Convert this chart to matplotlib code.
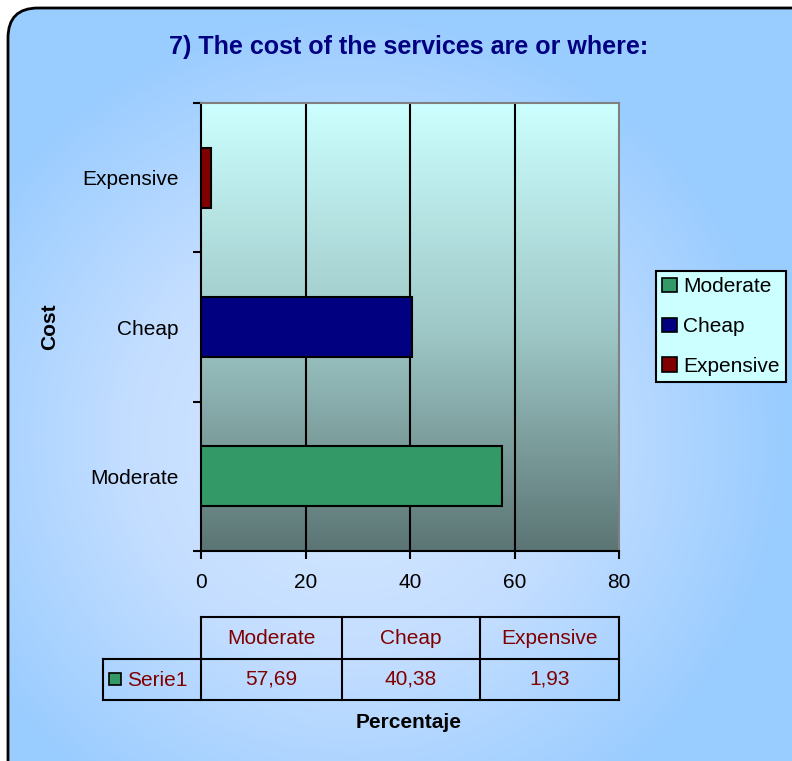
import numpy as np
import matplotlib.pyplot as plt
from matplotlib.patches import Patch, FancyBboxPatch
from matplotlib.colors import LinearSegmentedColormap

plt.rcParams['font.family'] = ['Liberation Sans', 'DejaVu Sans']

# data
categories = ['Moderate', 'Cheap', 'Expensive']
values = [57.69, 40.38, 1.93]
bar_colors = ['#339966', '#000080', '#800000']
series_name = 'Serie1'
title = '7) The cost of the services are or where:'
xticks = [0, 20, 40, 60, 80]

W, H = 792, 761
fig = plt.figure(figsize=(W / 100, H / 100), dpi=100)
fig.patch.set_facecolor('white')

def fx(px):
    return px / W

def fy(py):
    return 1 - py / H

# background with radial gradient inside a rounded frame
bg = fig.add_axes([0, 0, 1, 1])
bg.set_xlim(0, W)
bg.set_ylim(H, 0)
bg.axis('off')
yy, xx = np.mgrid[0:H, 0:W]
r = np.sqrt(((xx - 350) / 440.0) ** 2 + ((yy - 440) / 430.0) ** 2)
r = np.clip(r, 0, 1)
bg_cmap = LinearSegmentedColormap.from_list('bg', ['#d8eaff', '#c4deff', '#99ccff'])
im = bg.imshow(r, cmap=bg_cmap, extent=(0, W, H, 0), aspect='auto', zorder=0)
frame = FancyBboxPatch((8, 8), W + 30, H + 30, boxstyle='round,pad=0,rounding_size=30',
                       facecolor='none', edgecolor='black', linewidth=2, zorder=2)
bg.add_patch(frame)
im.set_clip_path(frame)

# main plot
ax = fig.add_axes([fx(201), fy(551), fx(619) - fx(201), fy(103) - fy(551)])
ax.set_facecolor('none')
grad = np.linspace(1, 0, 256).reshape(-1, 1)
plot_cmap = LinearSegmentedColormap.from_list('pa', ['#5b7574', '#9fc9c8', '#ccffff'])
ax.imshow(grad, cmap=plot_cmap, extent=(0, 80, -0.5, 2.5), aspect='auto', zorder=0)

ypos = np.arange(len(categories))
ax.barh(ypos, values, height=0.4, color=bar_colors, edgecolor='black', linewidth=1.5, zorder=3)

ax.set_xlim(0, 80)
ax.set_ylim(-0.5, 2.5)
ax.set_xticks(xticks)
ax.set_xticklabels([str(v) for v in xticks], fontsize=15)
for v in xticks[1:-1]:
    ax.axvline(v, color='black', linewidth=1.5, zorder=1)

ax.set_yticks([-0.5, 0.5, 1.5, 2.5])
ax.set_yticklabels([])
ax.set_yticks(ypos, minor=True)
ax.set_yticklabels(categories, minor=True, fontsize=15)
ax.tick_params(axis='y', which='minor', length=0, pad=16)
ax.tick_params(axis='both', which='major', direction='out', length=6, width=1.5, color='black')
ax.tick_params(axis='x', pad=10)

for side in ['top', 'right']:
    ax.spines[side].set_color('#808080')
    ax.spines[side].set_linewidth(1.5)
for side in ['left', 'bottom']:
    ax.spines[side].set_color('black')
    ax.spines[side].set_linewidth(1.5)

fig.text(0.5 * (fx(155) + fx(662)), fy(47), title, ha='center', va='center',
         fontsize=18, fontweight='bold', color='#000080')
fig.text(fx(50), fy(327), 'Cost', rotation=90, ha='center', va='center',
         fontsize=15, fontweight='bold', color='black')
fig.text(fx(409), fy(722), 'Percentaje', ha='center', va='center',
         fontsize=15, fontweight='bold', color='black')

# legend
handles = [Patch(facecolor=c, edgecolor='black', linewidth=1.2) for c in bar_colors]
leg = fig.legend(handles, categories, loc='upper left',
                 bbox_to_anchor=(fx(656), fy(271)), fontsize=15,
                 frameon=True, fancybox=False, handlelength=0.7, handleheight=0.7,
                 handletextpad=0.3, labelspacing=1.0, borderpad=0.3, borderaxespad=0)
leg.get_frame().set_facecolor('#ccffff')
leg.get_frame().set_edgecolor('black')
leg.get_frame().set_linewidth(1.5)
leg.get_frame().set_alpha(1)

# data table
tab = fig.add_axes([fx(103), fy(700), fx(619) - fx(103), fy(617) - fy(700)])
tab.set_xlim(0, 516)
tab.set_ylim(83, 0)
tab.axis('off')
col_edges = [0, 98, 239, 377, 516]
row_mid = 42
lw = 1.5
tab.plot([98, 516], [0, 0], color='black', lw=lw, clip_on=False)
tab.plot([0, 516], [row_mid, row_mid], color='black', lw=lw, clip_on=False)
tab.plot([0, 516], [83, 83], color='black', lw=lw, clip_on=False)
tab.plot([0, 0], [row_mid, 83], color='black', lw=lw, clip_on=False)
for xe in col_edges[1:]:
    tab.plot([xe, xe], [0, 83], color='black', lw=lw, clip_on=False)
red = '#800000'
for i, cat in enumerate(categories):
    cx = 0.5 * (col_edges[i + 1] + col_edges[i + 2])
    tab.text(cx, 21, cat, ha='center', va='center', fontsize=15, color=red)
    tab.text(cx, 62, f'{values[i]:.2f}'.replace('.', ','), ha='center', va='center',
             fontsize=15, color=red)
tab.add_patch(plt.Rectangle((6, 56), 12, 12, facecolor=bar_colors[0], edgecolor='black',
                            lw=1.2, clip_on=False))
tab.text(24, 63, series_name, ha='left', va='center', fontsize=15, color=red)

fig.savefig('out.png', dpi=100)
